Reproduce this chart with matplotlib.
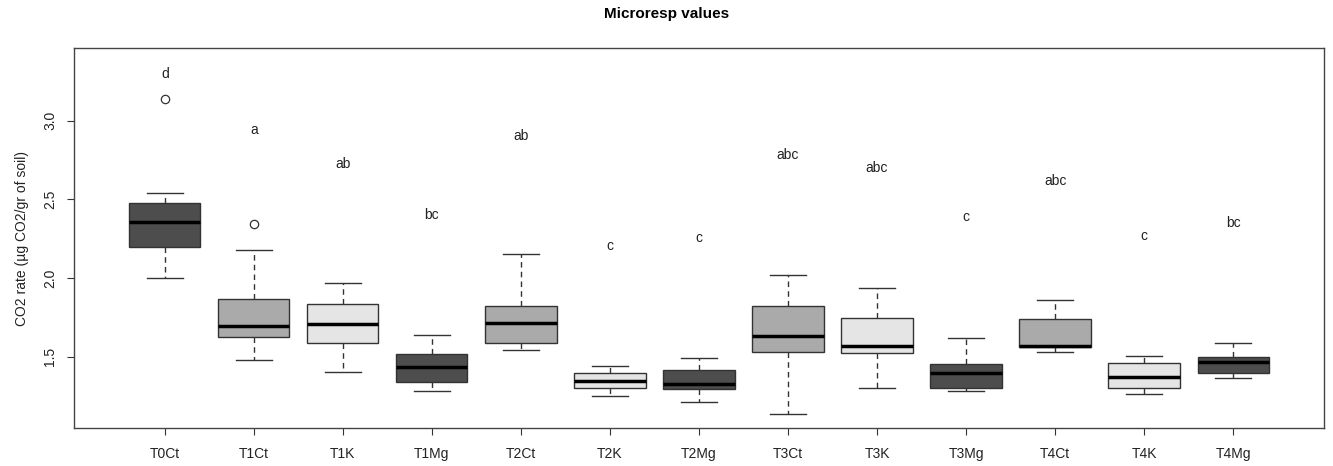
import matplotlib
matplotlib.use("Agg")
import matplotlib.pyplot as plt

plt.rcParams['font.family'] = ['Liberation Sans', 'DejaVu Sans']

# treatment groups and five-number summaries
groups = ['T0Ct', 'T1Ct', 'T1K', 'T1Mg', 'T2Ct', 'T2K', 'T2Mg',
          'T3Ct', 'T3K', 'T3Mg', 'T4Ct', 'T4K', 'T4Mg']
whislo = [2.001, 1.483, 1.403, 1.284, 1.543, 1.253, 1.214, 1.134, 1.303, 1.284, 1.532, 1.263, 1.363]
q1 = [2.196, 1.629, 1.591, 1.338, 1.591, 1.303, 1.297, 1.528, 1.523, 1.303, 1.562, 1.303, 1.399]
med = [2.355, 1.697, 1.708, 1.435, 1.712, 1.348, 1.325, 1.633, 1.568, 1.399, 1.568, 1.373, 1.466]
q3 = [2.475, 1.866, 1.836, 1.521, 1.820, 1.397, 1.418, 1.824, 1.747, 1.454, 1.741, 1.462, 1.496]
whishi = [2.541, 2.181, 1.972, 1.642, 2.152, 1.443, 1.492, 2.020, 1.939, 1.623, 1.862, 1.504, 1.591]
outliers = [[3.14], [2.342], [], [], [], [], [], [], [], [], [], [], []]

# significance letters and their heights
letters = ['d', 'a', 'ab', 'bc', 'ab', 'c', 'c', 'abc', 'abc', 'c', 'abc', 'c', 'bc']
letter_y = [3.298, 2.943, 2.725, 2.401, 2.905, 2.204, 2.253, 2.780, 2.697, 2.386, 2.617, 2.266, 2.353]

colors = ['#4d4d4d', '#aaaaaa', '#e5e5e5', '#4d4d4d', '#aaaaaa', '#e5e5e5', '#4d4d4d',
          '#aaaaaa', '#e5e5e5', '#4d4d4d', '#aaaaaa', '#e5e5e5', '#4d4d4d']

stats = []
for i, g in enumerate(groups):
    stats.append({'label': g, 'whislo': whislo[i], 'q1': q1[i], 'med': med[i],
                  'q3': q3[i], 'whishi': whishi[i], 'fliers': outliers[i]})

fig = plt.figure(figsize=(13.33, 4.66), dpi=100)
ax = fig.add_axes([0.0555, 0.0815, 0.9377, 0.8145])

positions = list(range(1, len(groups) + 1))
bp = ax.bxp(stats, positions=positions, widths=0.8, patch_artist=True,
            boxprops=dict(edgecolor='#333333', linewidth=1),
            medianprops=dict(color='black', linewidth=2.5),
            whiskerprops=dict(color='#333333', linestyle=(0, (4, 3)), linewidth=1),
            capprops=dict(color='#333333', linewidth=1),
            flierprops=dict(marker='o', markerfacecolor='none', markeredgecolor='#333333',
                            markersize=6, markeredgewidth=0.9))
for patch, c in zip(bp['boxes'], colors):
    patch.set_facecolor(c)
for cap in bp['caps']:
    x0, x1 = cap.get_xdata()
    mid = (x0 + x1) / 2
    cap.set_xdata([mid - 0.2, mid + 0.2])

for x, lab, y in zip(positions, letters, letter_y):
    ax.text(x, y, lab, ha='center', va='center', fontsize=10, color='#222222')

ax.set_xlim(-0.02, 14.02)
ax.set_ylim(1.048, 3.459)
ax.set_yticks([1.5, 2.0, 2.5, 3.0])
ax.set_yticklabels(['1.5', '2.0', '2.5', '3.0'], rotation=90, va='center')
ax.set_xticks(positions)
ax.set_xticklabels(groups)
ax.tick_params(axis='both', labelsize=10, length=5, color='#333333', labelcolor='#222222')
ax.tick_params(axis='x', pad=9)
ax.tick_params(axis='y', pad=7)
for s in ax.spines.values():
    s.set_color('#444444')
    s.set_linewidth(1)

ax.set_ylabel('CO2 rate (µg CO2/gr of soil)', fontsize=10, labelpad=10, color='#222222')
fig.suptitle('Microresp values', fontsize=11, fontweight='bold', y=0.985)

fig.savefig('out.png', dpi=100)
